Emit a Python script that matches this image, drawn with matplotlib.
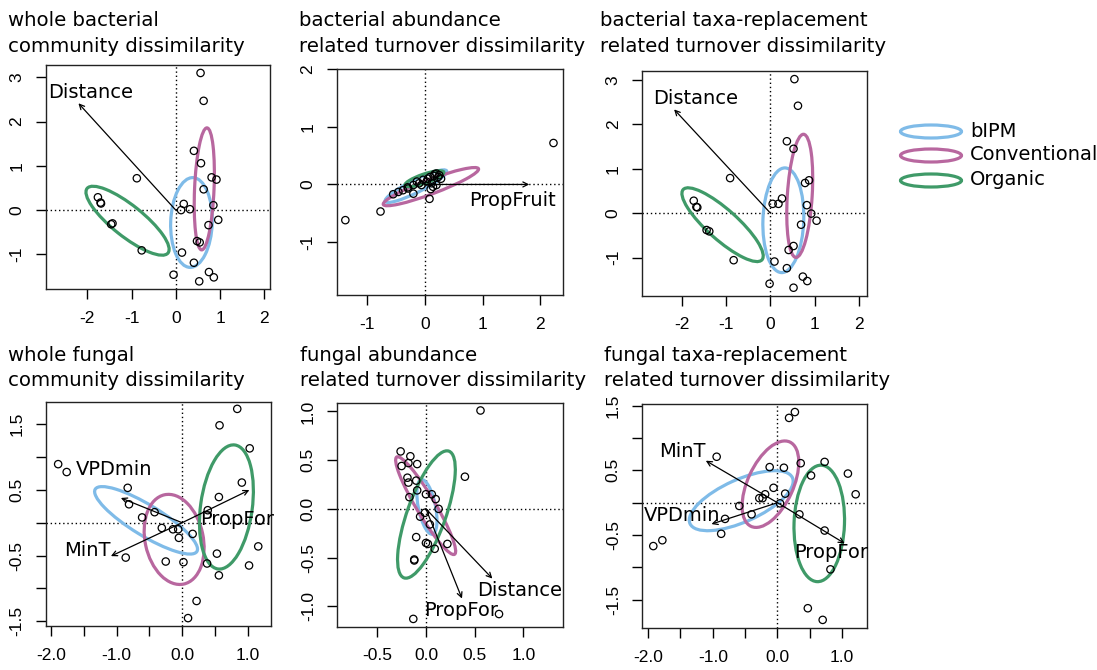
import numpy as np
import matplotlib
matplotlib.use("Agg")
import matplotlib.pyplot as plt
from matplotlib.patches import Ellipse

plt.rcParams['font.family'] = ['DejaVu Sans']

W, H = 1097, 670
fig = plt.figure(figsize=(W / 100, H / 100), dpi=100)

groups = ["bIPM", "Conventional", "Organic"]
group_colors = ["#7fbbe8", "#b8679f", "#3f9a68"]

# ---------------- panel titles ----------------
titles = [
    ("whole bacterial", "community dissimilarity"),
    ("bacterial abundance", "related turnover dissimilarity"),
    ("bacterial taxa-replacement", "related turnover dissimilarity"),
    ("whole fungal", "community dissimilarity"),
    ("fungal abundance", "related turnover dissimilarity"),
    ("fungal taxa-replacement", "related turnover dissimilarity"),
]

# ---------------- panel 1: whole bacterial ----------------
p1_x = [0.56, 0.63, 0.41, 0.57, 0.81, 0.92, 0.63, 0.85, 0.18, 0.12, 0.32, 0.96, 0.74, 0.48,
        0.54, 0.14, 0.41, -0.05, 0.75, 0.86, 0.53, -0.88, -1.76, -1.70, -1.69, -1.43, -1.46, -0.77]
p1_y = [3.10, 2.47, 1.34, 1.06, 0.74, 0.69, 0.47, 0.11, 0.14, 0.00, 0.02, -0.22, -0.34, -0.70,
        -0.73, -0.96, -1.19, -1.46, -1.40, -1.52, -1.61, 0.72, 0.29, 0.17, 0.15, -0.30, -0.32, -0.91]
# ellipses: centre x, centre y, semi-major, semi-minor, angle (deg) for bIPM, Conventional, Organic
p1_ell_cx = [0.355, 0.645, -1.09]
p1_ell_cy = [-0.28, 0.48, -0.24]
p1_ell_a = [1.015, 1.38, 1.17]
p1_ell_b = [0.47, 0.22, 0.35]
p1_ell_ang = [88, 87.5, -38.6]
p1_arrow_names = ["Distance"]
p1_arrow_x = [-2.20]
p1_arrow_y = [2.415]
p1_label_x = [-1.925]
p1_label_y = [2.657]

# ---------------- panel 2: bacterial abundance turnover ----------------
p2_x = [2.23, -1.38, -0.77, 0.08, -0.55, -0.46, -0.38, -0.29, -0.20, -0.20, -0.06, 0.03, 0.12, 0.14,
        0.20, 0.17, 0.20, 0.09, 0.23, -0.03, -0.14, 0.25, -0.10, 0.05, 0.15, -0.30, 0.28, 0.10]
p2_y = [0.72, -0.62, -0.47, -0.25, -0.17, -0.13, -0.10, -0.07, -0.16, -0.01, -0.01, 0.05, 0.02, -0.04,
        -0.01, 0.18, 0.19, 0.13, 0.13, 0.08, 0.05, 0.16, 0.02, 0.10, 0.15, -0.05, 0.10, -0.08]
p2_ell_cx = [-0.156, 0.104, -0.01]
p2_ell_cy = [-0.03, -0.038, 0.10]
p2_ell_a = [0.595, 0.882, 0.356]
p2_ell_b = [0.11, 0.126, 0.08]
p2_ell_ang = [26.5, 20.6, 19]
p2_arrow_names = ["PropFruit"]
p2_arrow_x = [1.81]
p2_arrow_y = [0.0]
p2_label_x = [1.514]
p2_label_y = [-0.272]

# ---------------- panel 3: bacterial taxa-replacement turnover ----------------
p3_x = [0.54, 0.62, 0.37, 0.52, 0.78, 0.87, 0.82, 0.92, 1.04, 0.69, 0.05, 0.18, 0.26, 0.52,
        0.41, 0.09, 0.37, -0.02, 0.73, 0.83, 0.52, -0.91, -1.73, -1.67, -1.65, -1.44, -1.38, -0.83]
p3_y = [3.02, 2.42, 1.62, 1.45, 0.68, 0.74, 0.18, -0.01, -0.17, -0.26, 0.21, 0.21, 0.33, -0.74,
        -0.83, -1.09, -1.24, -1.59, -1.43, -1.53, -1.68, 0.79, 0.28, 0.14, 0.13, -0.38, -0.41, -1.06]
p3_ell_cx = [0.29, 0.66, -1.08]
p3_ell_cy = [-0.16, 0.39, -0.26]
p3_ell_a = [1.18, 1.39, 1.19]
p3_ell_b = [0.46, 0.28, 0.34]
p3_ell_ang = [88, 86.4, -41.7]
p3_arrow_names = ["Distance"]
p3_arrow_x = [-2.173]
p3_arrow_y = [2.338]
p3_label_x = [-1.684]
p3_label_y = [2.586]

# ---------------- panel 4: whole fungal ----------------
p4_x = [0.84, 0.57, 1.03, -1.89, -1.76, 0.91, -0.83, -0.81, 0.56, -0.42, -0.61, 0.39, -0.31, -0.14,
        -0.06, -0.05, 0.16, 1.16, 0.53, -0.86, -0.25, 0.02, 0.38, 1.02, 0.56, 0.22, 0.09]
p4_y = [1.73, 1.48, 1.13, 0.89, 0.77, 0.61, 0.53, 0.28, 0.39, 0.16, 0.08, 0.19, -0.08, -0.10,
        -0.10, -0.23, -0.17, -0.36, -0.47, -0.53, -0.59, -0.60, -0.62, -0.65, -0.80, -1.19, -1.45]
p4_ell_cx = [-0.55, -0.122, 0.675]
p4_ell_cy = [0.036, -0.254, 0.239]
p4_ell_a = [0.908, 0.694, 0.951]
p4_ell_b = [0.232, 0.443, 0.394]
p4_ell_ang = [-31.4, 102.2, 82.2]
p4_arrow_names = ["VPDmin", "MinT", "PropFor"]
p4_arrow_x = [-0.934, -1.086, 1.025]
p4_arrow_y = [0.376, -0.508, 0.497]
p4_label_x = [-1.036, -1.452, 0.832]
p4_label_y = [0.802, -0.426, 0.051]

# ---------------- panel 5: fungal abundance turnover ----------------
p5_x = [0.56, -0.26, -0.16, -0.25, -0.18, -0.09, 0.40, -0.19, -0.18, -0.10, -0.09, 0.00, 0.06, 0.10,
        -0.17, 0.13, -0.06, -0.01, 0.04, -0.10, 0.00, 0.02, 0.22, 0.09, -0.12, -0.12, 0.75, -0.13]
p5_y = [1.01, 0.59, 0.54, 0.44, 0.47, 0.46, 0.33, 0.32, 0.27, 0.29, 0.19, 0.15, 0.15, 0.10,
        0.12, 0.00, -0.08, -0.04, -0.16, -0.29, -0.35, -0.36, -0.36, -0.41, -0.52, -0.53, -1.08, -1.13]
p5_ell_cx = [0.01, -0.003, 0.005]
p5_ell_cy = [0.02, 0.033, -0.058]
p5_ell_a = [0.286, 0.581, 0.69]
p5_ell_b = [0.088, 0.097, 0.198]
p5_ell_ang = [101.5, -59.3, 70.5]
p5_arrow_names = ["Distance", "PropFor"]
p5_arrow_x = [0.682, 0.37]
p5_arrow_y = [-0.716, -0.921]
p5_label_x = [0.962, 0.356]
p5_label_y = [-0.842, -1.041]

# ---------------- panel 6: fungal taxa-replacement turnover ----------------
p6_x = [0.27, 0.18, -0.94, 0.73, 0.36, -0.12, 0.10, 1.09, 0.52, -0.06, -0.19, -0.28, -0.23, 1.21,
        0.12, 0.04, -0.59, -0.40, 0.34, -0.81, 0.73, -0.87, -1.78, -1.92, 0.82, 0.47, 0.70]
p6_y = [1.40, 1.31, 0.71, 0.63, 0.61, 0.55, 0.54, 0.45, 0.42, 0.23, 0.13, 0.07, 0.07, 0.13,
        0.14, -0.01, -0.05, -0.18, -0.18, -0.25, -0.43, -0.48, -0.58, -0.67, -1.03, -1.63, -1.81]
p6_ell_cx = [-0.56, -0.108, 0.647]
p6_ell_cy = [0.031, 0.286, -0.32]
p6_ell_a = [0.868, 0.717, 0.90]
p6_ell_b = [0.327, 0.352, 0.39]
p6_ell_ang = [24.1, 65.3, 88]
p6_arrow_names = ["MinT", "VPDmin", "PropFor"]
p6_arrow_x = [-1.108, -1.02, 1.041]
p6_arrow_y = [0.649, -0.33, -0.629]
p6_label_x = [-1.474, -1.479, 0.835]
p6_label_y = [0.789, -0.191, -0.773]

# axis limits and ticks
xlims = [(-2.94, 2.13), (-1.53, 2.39), (-2.89, 2.17), (-2.08, 1.35), (-0.91, 1.41), (-2.09, 1.39)]
ylims = [(-1.79, 3.28), (-1.92, 1.99), (-1.86, 3.21), (-1.57, 1.83), (-1.21, 1.09), (-1.94, 1.52)]
xticks = [[-2, -1, 0, 1, 2], [-1, 0, 1, 2], [-2, -1, 0, 1, 2],
          [-2.0, -1.5, -1.0, -0.5, 0.0, 0.5, 1.0], [-0.5, 0.0, 0.5, 1.0],
          [-2.0, -1.5, -1.0, -0.5, 0.0, 0.5, 1.0]]
xticklabels = [["-2", "-1", "0", "1", "2"], ["-1", "0", "1", "2"], ["-2", "-1", "0", "1", "2"],
               ["-2.0", "", "-1.0", "", "0.0", "", "1.0"], ["-0.5", "0.0", "0.5", "1.0"],
               ["-2.0", "", "-1.0", "", "0.0", "", "1.0"]]
yticks = [[-1, 0, 1, 2, 3], [-1, 0, 1, 2], [-1, 0, 1, 2, 3],
          [-1.5, -1.0, -0.5, 0.0, 0.5, 1.0, 1.5], [-1.0, -0.5, 0.0, 0.5, 1.0],
          [-1.5, -1.0, -0.5, 0.0, 0.5, 1.0, 1.5]]
yticklabels = [["-1", "0", "1", "2", "3"], ["-1", "0", "1", "2"], ["-1", "0", "1", "2", "3"],
               ["-1.5", "", "-0.5", "", "0.5", "", "1.5"], ["-1.0", "-0.5", "0.0", "0.5", "1.0"],
               ["-1.5", "", "-0.5", "", "0.5", "", "1.5"]]

# layout (pixel boxes: left, top, right, bottom) and title anchors
boxes = [(45.7, 65, 270, 289.3), (336.7, 69.3, 562.7, 295), (642.3, 70.7, 866.7, 295.7),
         (45.7, 402.3, 270.7, 626), (337.3, 402.7, 563.3, 626.7), (642.3, 404.3, 867.3, 628.3)]
title_pos = [(8, 26), (299, 26), (600, 26), (8, 361), (300, 361), (604, 361)]

panels = [
    (p1_x, p1_y, p1_ell_cx, p1_ell_cy, p1_ell_a, p1_ell_b, p1_ell_ang,
     p1_arrow_names, p1_arrow_x, p1_arrow_y, p1_label_x, p1_label_y),
    (p2_x, p2_y, p2_ell_cx, p2_ell_cy, p2_ell_a, p2_ell_b, p2_ell_ang,
     p2_arrow_names, p2_arrow_x, p2_arrow_y, p2_label_x, p2_label_y),
    (p3_x, p3_y, p3_ell_cx, p3_ell_cy, p3_ell_a, p3_ell_b, p3_ell_ang,
     p3_arrow_names, p3_arrow_x, p3_arrow_y, p3_label_x, p3_label_y),
    (p4_x, p4_y, p4_ell_cx, p4_ell_cy, p4_ell_a, p4_ell_b, p4_ell_ang,
     p4_arrow_names, p4_arrow_x, p4_arrow_y, p4_label_x, p4_label_y),
    (p5_x, p5_y, p5_ell_cx, p5_ell_cy, p5_ell_a, p5_ell_b, p5_ell_ang,
     p5_arrow_names, p5_arrow_x, p5_arrow_y, p5_label_x, p5_label_y),
    (p6_x, p6_y, p6_ell_cx, p6_ell_cy, p6_ell_a, p6_ell_b, p6_ell_ang,
     p6_arrow_names, p6_arrow_x, p6_arrow_y, p6_label_x, p6_label_y),
]


def px_axes(l, t, r, b, **kw):
    return fig.add_axes([l / W, 1 - b / H, (r - l) / W, (b - t) / H], **kw)


for i, (px, py, ecx, ecy, ea, eb, eang, anames, ax_, ay_, lx, ly) in enumerate(panels):
    ax = px_axes(*boxes[i])
    ax.set_xlim(*xlims[i])
    ax.set_ylim(*ylims[i])
    ax.axhline(0, color="black", ls=(0, (1, 2)), lw=1.0, zorder=1)
    ax.axvline(0, color="black", ls=(0, (1, 2)), lw=1.0, zorder=1)
    for g in range(3):
        ax.add_patch(Ellipse((ecx[g], ecy[g]), 2 * ea[g], 2 * eb[g], angle=eang[g],
                             fill=False, ec=group_colors[g], lw=2.3, zorder=3))
    ax.scatter(px, py, s=28, facecolors="none", edgecolors="black", linewidths=0.9, zorder=4)
    for k, name in enumerate(anames):
        ax.annotate("", xy=(ax_[k], ay_[k]), xytext=(0, 0),
                    arrowprops=dict(arrowstyle="->", lw=0.9, color="black",
                                    mutation_scale=9, shrinkA=0, shrinkB=0), zorder=5)
        ax.text(lx[k], ly[k], name, ha="center", va="center", fontsize=14, zorder=6)
    ax.set_xticks(xticks[i])
    ax.set_xticklabels(xticklabels[i], fontfamily="Liberation Sans", fontsize=12.5)
    ax.set_yticks(yticks[i])
    ax.set_yticklabels(yticklabels[i], fontfamily="Liberation Sans", fontsize=12.5)
    ax.tick_params(direction="out", length=7.5, width=1, pad=8, colors="black")
    for lab in ax.get_yticklabels():
        lab.set_rotation(90)
        lab.set_va("center")
    for s in ax.spines.values():
        s.set_linewidth(1.0)
        s.set_color("#222222")
    tx, ty = title_pos[i]
    fig.text(tx / W, 1 - ty / H, titles[i][0], fontsize=14.2, ha="left", va="baseline")
    fig.text(tx / W, 1 - (ty + 25.5) / H, titles[i][1], fontsize=14.2, ha="left", va="baseline")

# ---------------- legend ----------------
lax = px_axes(895, 110, 1097, 200)
lax.set_xlim(895, 1097)
lax.set_ylim(200, 110)
lax.axis("off")
leg_cy = [131.5, 155.5, 180.5]
leg_ty = [137, 160, 185]
for g in range(3):
    lax.add_patch(Ellipse((931, leg_cy[g]), 61, 13, fill=False, ec=group_colors[g], lw=2.3))
    lax.text(970, leg_ty[g], groups[g], fontsize=14, ha="left", va="baseline")

fig.savefig("out.png", dpi=100)
